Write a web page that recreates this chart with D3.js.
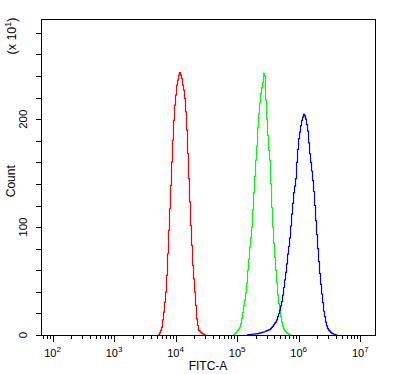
<!DOCTYPE html>
<html><head><meta charset="utf-8">
<script src="https://cdn.jsdelivr.net/npm/d3@7"></script>
<style>
body{margin:0;background:#fff}
svg{display:block}
text{font-family:"Liberation Sans",Arial,sans-serif;fill:#000}
</style>
</head><body>
<svg id="chart" width="395" height="374"></svg>
<script>
// ---- data (counts in units of x10^1) ----
const xTickExponents = [2, 3, 4, 5, 6, 7];
const yTickLabels = [0, 100, 200];
const xTitle = "FITC-A";
const yTitle = "Count";
const yMultiplierExp = 1;

const binWidthLog = 0.01625;           // histogram bin width in log10(FITC-A)
const seriesNames = ["red", "green", "blue"];
const seriesColors = ["#ff0000", "#00ff00", "#0000ff"];
const seriesStartLog = [3.722, 4.9407, 5.1682];

const redCounts = [0.2,2,4.2,7,14,21.2,30.5,39.7,55.2,75.3,97,117,138.7,160.4,180.5,199,213,222.3,231.6,236.2,240.8,243.3,240.8,237.7,231.6,226.9,219.2,206.8,189.8,168.2,145,123.3,101.6,83,64.5,52.1,39.7,27.4,15,8.8,4.2,3.5,2.6,1.8,1,0.6,0.2];
const greenCounts = [0.3,1,2,3,4,5.5,7.2,10.5,15.5,21,27,32,39,48,60,70,81.5,90,100,116,132,147,162,175,192,205,215,224,229,234,242.4,240,218,200,185,171,162,140,118,100,85,72,60,48,37,29,22.7,17,12,8,5.5,4.2,3,2,1.2,0.6,0.2];
const blueCounts = [0.2,0.3,0.4,0.5,0.6,0.7,0.8,0.9,1,1.1,1.3,1.5,1.7,2,2.3,2.6,2.8,3,3.5,4,4.2,4.8,5,6,7,8,9.5,11,12,14,17,19.7,23,27,31,37,44,51,58,66,75,82,90,101,112,122,132,138,145,160,172,182,188,194,199,202,204.4,203,200,195,189,178,168,160,152,143,133,120,106,93,80,68,57,47,38,30,22,17,12,8.5,6,4.5,3.5,2.5,1.8,1.2,0.7,0.3,0.1];
const seriesCounts = [redCounts, greenCounts, blueCounts];

// ---- layout ----
const L = 41, T = 19.5, R = 375, B = 335;
const svg = d3.select("#chart");

const x = d3.scaleLog().domain([65.0, 1.736e7]).range([L, R]);
const y = d3.scaleLinear().domain([0, 292.4]).range([B, T]);

// ---- histograms ----
const line = d3.line().x(d => x(d[0])).y(d => y(d[1]));
seriesCounts.forEach((counts, si) => {
  const start = seriesStartLog[si];
  const pts = [[Math.pow(10, start), 0]];
  counts.forEach((c, i) => {
    const a = Math.pow(10, start + i * binWidthLog);
    const b = Math.pow(10, start + (i + 1) * binWidthLog);
    pts.push([a, c], [b, c]);
  });
  pts.push([Math.pow(10, start + counts.length * binWidthLog), 0]);
  svg.append("path").attr("d", line(pts)).attr("fill", "none")
    .attr("stroke", seriesColors[si]).attr("stroke-width", 1.2)
    .attr("class", "series-" + seriesNames[si]);
});

// ---- frame ----
svg.append("rect").attr("x", L + 0.5).attr("y", T).attr("width", R - L).attr("height", B - T)
  .attr("fill", "none").attr("stroke", "#000").attr("stroke-width", 1).attr("shape-rendering", "crispEdges");

// ---- x axis ----
const minor = [];
xTickExponents.concat([1]).forEach(e => {
  for (let m = 2; m <= 9; m++) {
    const v = m * Math.pow(10, e);
    if (v >= x.domain()[0] && v <= x.domain()[1]) minor.push(v);
  }
});
const major = xTickExponents.map(e => Math.pow(10, e));
const xg = svg.append("g").attr("transform", `translate(0,${B})`);
xg.call(d3.axisBottom(x).tickValues(minor).tickSize(4).tickFormat(""))
  .call(g => g.select(".domain").remove());
const xg2 = svg.append("g").attr("transform", `translate(0,${B})`);
xg2.call(d3.axisBottom(x).tickValues(major).tickSize(7).tickFormat(""))
  .call(g => g.select(".domain").remove());
svg.selectAll("g .tick line").attr("shape-rendering", "crispEdges");

major.forEach((v, i) => {
  const t = svg.append("text").attr("x", x(v)).attr("y", 356.5).attr("text-anchor", "middle")
    .style("font-size", "11px");
  t.append("tspan").text("10");
  t.append("tspan").attr("dy", -5).style("font-size", "8px").text(xTickExponents[i]);
});

svg.append("text").attr("x", (L + R) / 2).attr("y", 370).attr("text-anchor", "middle")
  .style("font-size", "12px").text(xTitle);

// ---- y axis ----
const yMinor = d3.range(0, 281, 20);
svg.append("g").attr("transform", `translate(${L},0)`)
  .call(d3.axisLeft(y).tickValues(yMinor).tickSize(5).tickFormat(""))
  .call(g => g.select(".domain").remove())
  .selectAll("line").attr("shape-rendering", "crispEdges");

yTickLabels.forEach(v => {
  svg.append("text").attr("transform", `translate(27,${y(v)}) rotate(-90)`)
    .attr("text-anchor", "middle").style("font-size", "11.5px").text(v);
});

svg.append("text").attr("transform", `translate(15,${(T + B) / 2 + 4}) rotate(-90)`)
  .attr("text-anchor", "middle").style("font-size", "12px").text(yTitle);

const mt = svg.append("text").attr("transform", `translate(16,36) rotate(-90)`)
  .attr("text-anchor", "middle").style("font-size", "12.5px");
mt.append("tspan").text("(x 10");
mt.append("tspan").attr("dy", -5).style("font-size", "9px").text(yMultiplierExp);
mt.append("tspan").attr("dy", 5).text(")");
</script>
</body></html>
